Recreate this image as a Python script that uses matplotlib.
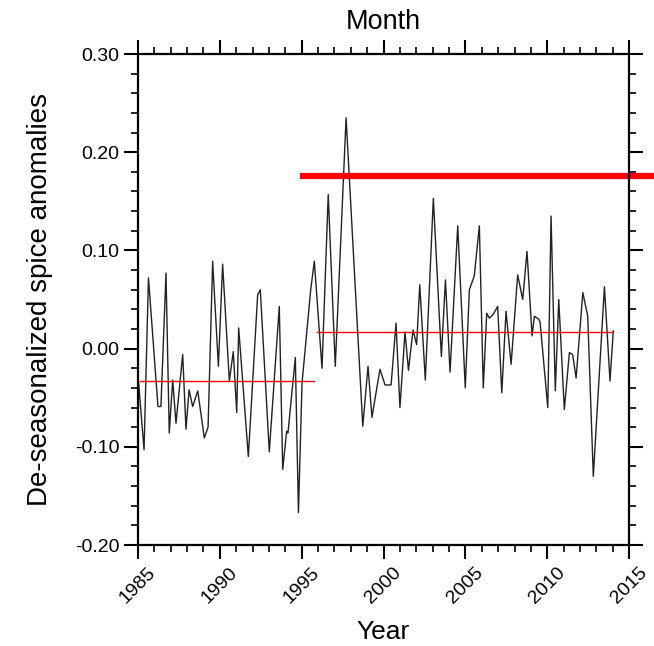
import matplotlib
matplotlib.use("Agg")
import matplotlib.pyplot as plt
from matplotlib.ticker import MultipleLocator

plt.rcParams['font.family'] = ['Liberation Sans', 'DejaVu Sans']

# anomaly series (turning points)
years = [1985.04, 1985.37, 1985.64, 1986.22, 1986.40, 1986.71, 1986.91, 1987.12,
         1987.32, 1987.73, 1987.93, 1988.12, 1988.34, 1988.65, 1989.05, 1989.28,
         1989.56, 1989.91, 1990.17, 1990.58, 1990.82, 1991.03, 1991.15, 1991.74,
         1992.31, 1992.47, 1993.02, 1993.63, 1993.84, 1994.08, 1994.16, 1994.61,
         1994.80, 1995.02, 1995.55, 1995.77, 1996.24, 1996.62, 1997.05, 1997.71,
         1998.73, 1999.05, 1999.29, 1999.78, 2000.09, 2000.46, 2000.76, 2001.00,
         2001.31, 2001.52, 2001.80, 2002.02, 2002.21, 2002.55, 2003.04, 2003.53,
         2003.78, 2004.06, 2004.53, 2004.99, 2005.24, 2005.54, 2005.85, 2006.09,
         2006.30, 2006.46, 2006.70, 2006.97, 2007.22, 2007.48, 2007.79, 2008.19,
         2008.50, 2008.76, 2009.07, 2009.21, 2009.48, 2009.56, 2010.03, 2010.23,
         2010.49, 2010.70, 2011.04, 2011.35, 2011.55, 2011.76, 2012.17, 2012.47,
         2012.81, 2013.49, 2013.83, 2014.03]
anom = [-0.035, -0.103, 0.072, -0.059, -0.059, 0.077, -0.086, -0.032,
        -0.076, -0.006, -0.082, -0.042, -0.059, -0.043, -0.091, -0.080,
        0.089, -0.018, 0.086, -0.033, -0.003, -0.065, 0.021, -0.110,
        0.055, 0.060, -0.105, 0.043, -0.123, -0.084, -0.086, -0.009,
        -0.167, -0.035, 0.060, 0.089, -0.020, 0.157, -0.018, 0.235,
        -0.079, -0.018, -0.070, -0.021, -0.037, -0.037, 0.026, -0.060,
        0.017, -0.022, 0.019, 0.004, 0.065, -0.032, 0.153, -0.008,
        0.070, -0.024, 0.125, -0.040, 0.060, 0.074, 0.125, -0.040,
        0.036, 0.031, 0.035, 0.043, -0.045, 0.038, -0.016, 0.075,
        0.050, 0.099, 0.013, 0.033, 0.030, 0.027, -0.060, 0.135,
        -0.043, 0.050, -0.062, -0.004, -0.006, -0.030, 0.057, 0.033,
        -0.130, 0.063, -0.033, 0.018]

# period means
mean1_x = [1985.1, 1995.75]
mean1_y = [-0.033, -0.033]
mean2_x = [1995.95, 2014.0]
mean2_y = [0.0173, 0.0173]
# thick reference line (runs off the right edge)
ref_x = [1994.9, 2018.0]
ref_y = [0.176, 0.176]

fig = plt.figure(figsize=(6.54, 6.46), dpi=100)
ax = fig.add_axes([0.211, 0.1563, 0.751, 0.7601])

ax.plot(years, anom, color='#222222', lw=1.0)
ax.plot(mean1_x, mean1_y, color='red', lw=1.0)
ax.plot(mean2_x, mean2_y, color='red', lw=1.0)
ax.plot(ref_x, ref_y, color='red', lw=4.5, clip_on=False, solid_capstyle='butt')

ax.set_xlim(1985, 2015)
ax.set_ylim(-0.20, 0.30)
ax.xaxis.set_major_locator(MultipleLocator(5))
ax.xaxis.set_minor_locator(MultipleLocator(1))
ax.yaxis.set_major_locator(MultipleLocator(0.10))
ax.yaxis.set_minor_locator(MultipleLocator(0.02))
ax.yaxis.set_major_formatter(matplotlib.ticker.FormatStrFormatter('%.2f'))

ax.tick_params(which='both', direction='out', top=True, right=True, labelsize=14)
ax.tick_params(which='major', length=10, width=1.5)
ax.tick_params(which='minor', length=5, width=1.2)
for s in ax.spines.values():
    s.set_linewidth(1.6)
for lab in ax.get_xticklabels():
    lab.set_rotation(45)

ax.set_xlabel('Year', fontsize=19, labelpad=10)
ax.set_ylabel('De-seasonalized spice anomalies', fontsize=20, labelpad=16)
ax.set_title('Month', fontsize=19.5, pad=18)

fig.savefig('out.png', dpi=100)
